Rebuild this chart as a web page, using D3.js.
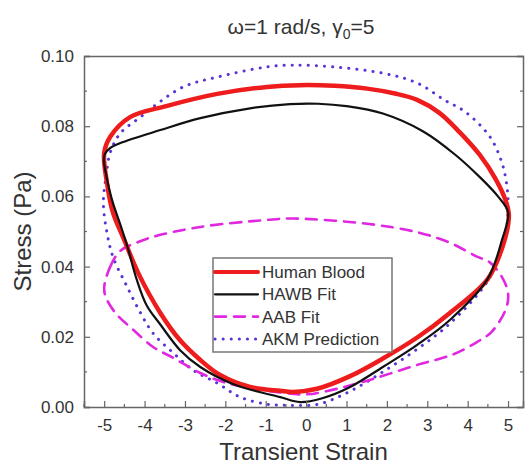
<!doctype html>
<html lang="en">
  <head>
    <meta charset="utf-8" />
    <title>Stress vs transient strain</title>
    <style>
      body { margin: 0; background: #fff; }
      text { font-family: "Liberation Sans", Arial, sans-serif; }
    </style>
  </head>
  <body>
    <div id="chart"></div>
    <script src="https://d3js.org/d3.v7.min.js"></script>
    <script>
// data, each loop listed clockwise from the left corner
var bloodStrain = [-5.0, -4.85, -4.36, -3.44, -2.2, -0.97, -0.15, 0.7, 1.51, 2.2, 2.75, 3.3, 3.8, 4.3, 4.7, 4.95, 5.02,
  4.9, 4.5, 3.56, 2.75, 1.9, 1.09, 0.27, -0.32, -0.64, -1.39, -2.13, -2.62, -3.12, -3.61, -4.15, -4.5, -4.78, -4.93];
var bloodStress = [0.0724, 0.077, 0.0826, 0.0858, 0.0892, 0.0912, 0.0917, 0.0915, 0.0907, 0.0893, 0.0875, 0.0838, 0.0783, 0.0718, 0.0648, 0.0585, 0.0545,
  0.047, 0.0365, 0.0268, 0.0198, 0.0138, 0.0088, 0.0052, 0.0043, 0.0046, 0.0057, 0.0091, 0.0134, 0.019, 0.0268, 0.038, 0.0475, 0.0553, 0.0638];

var hawbStrain = [-5.0, -4.85, -4.6, -3.61, -2.62, -1.39, -0.4, 0.3, 1.0, 1.9, 2.9, 3.7, 4.3, 4.75, 5.0,
  4.85, 4.48, 3.56, 2.75, 1.9, 1.09, 0.4, -0.15, -0.64, -1.8, -2.62, -3.12, -3.61, -3.95, -4.2, -4.42, -4.6, -4.78, -4.93];
var hawbStress = [0.0715, 0.0738, 0.0752, 0.0789, 0.0823, 0.0851, 0.0863, 0.0864, 0.0857, 0.0836, 0.0785, 0.0718, 0.0655, 0.06, 0.0555,
  0.0476, 0.0362, 0.0248, 0.0177, 0.0114, 0.0057, 0.0025, 0.0014, 0.0028, 0.0065, 0.0114, 0.0162, 0.0235, 0.029, 0.0365, 0.0455, 0.052, 0.058, 0.065];

var aabStrain = [-5.0, -4.85, -4.6, -4.2, -3.79, -2.62, -0.97, -0.32, 1.51, 2.75, 3.56, 4.2, 4.55, 4.85, 5.0,
  4.95, 4.6, 4.23, 3.64, 2.75, 1.51, 0.5, 0.0, -0.7, -1.96, -2.62, -3.29, -3.79, -4.28, -4.7, -4.95];
var aabStress = [0.034, 0.040, 0.0445, 0.0468, 0.0485, 0.0513, 0.0533, 0.0537, 0.0522, 0.0498, 0.0468, 0.043, 0.0412, 0.037, 0.0325,
  0.028, 0.0215, 0.0185, 0.015, 0.012, 0.0075, 0.0045, 0.0036, 0.0042, 0.0068, 0.0097, 0.014, 0.0171, 0.022, 0.0265, 0.031];

var akmStrain = [-5.02, -4.95, -4.85, -4.6, -4.1, -3.79, -3.04, -2.2, -0.97, -0.32, 0.67, 1.9, 2.75, 3.42, 3.95, 4.55, 4.85, 4.97, 5.0,
  4.9, 4.5, 3.56, 2.75, 1.9, 1.09, 0.3, -0.5, -0.97, -1.63, -2.2, -2.8, -3.29, -3.79, -4.1, -4.43, -4.78, -4.93];
var akmStress = [0.058, 0.066, 0.0725, 0.078, 0.0826, 0.0855, 0.0912, 0.094, 0.0969, 0.0974, 0.0969, 0.0951, 0.0923, 0.0875, 0.084, 0.077, 0.0695, 0.063, 0.057,
  0.047, 0.036, 0.0238, 0.0165, 0.01, 0.0045, 0.0008, 0.0005, 0.0008, 0.0028, 0.0068, 0.0105, 0.0154, 0.021, 0.0268, 0.0342, 0.0427, 0.0496];

var xTicks = [-5, -4, -3, -2, -1, 0, 1, 2, 3, 4, 5];
var yTicks = [0.00, 0.02, 0.04, 0.06, 0.08, 0.10];
var legendNames = ["Human Blood", "HAWB Fit", "AAB Fit", "AKM Prediction"];

var width = 528, height = 465;
var margin = {top: 56, right: 5, bottom: 58, left: 84};

var svg = d3.select("#chart").append("svg")
  .attr("width", width)
  .attr("height", height);

var x = d3.scaleLinear().domain([-5.5, 5.37]).range([margin.left, width - margin.right]);
var y = d3.scaleLinear().domain([0, 0.1]).range([height - margin.bottom, margin.top]);

var series = [
  {name: legendNames[0], xs: bloodStrain, ys: bloodStress, color: "#ee1c1c", w: 4.5, dash: null},
  {name: legendNames[1], xs: hawbStrain, ys: hawbStress, color: "#111", w: 2.2, dash: null},
  {name: legendNames[2], xs: aabStrain, ys: aabStress, color: "#e028e0", w: 2.6, dash: "11,8"},
  {name: legendNames[3], xs: akmStrain, ys: akmStress, color: "#5a32d8", w: 3, dash: "0.1,8"}
];

var line = d3.line()
  .x(function(d) { return x(d[0]); })
  .y(function(d) { return y(d[1]); })
  .curve(d3.curveCatmullRomClosed.alpha(0.5));

// draw the dotted/dashed ones first, measured curves on top
[3, 2, 0, 1].forEach(function(i) {
  var s = series[i];
  svg.append("path")
    .datum(d3.zip(s.xs, s.ys))
    .attr("d", line)
    .attr("fill", "none")
    .attr("stroke", s.color)
    .attr("stroke-width", s.w)
    .attr("stroke-linecap", "round")
    .attr("stroke-linejoin", "round")
    .attr("stroke-dasharray", s.dash);
});

// axes (ticks point inward)
var axisColor = "#666";
var xMinor = d3.range(-5.5, 5.4, 0.5).filter(function(v) { return v % 1 !== 0; });
var yMinor = [0.01, 0.03, 0.05, 0.07, 0.09];
var hyphen = function(d) { return String(d); };  // plain "-" like the original

var gx = svg.append("g").attr("transform", "translate(0," + y(0) + ")")
  .call(d3.axisBottom(x).tickValues(xTicks).tickSize(-6).tickPadding(12).tickFormat(hyphen));
gx.append("g").selectAll("line").data(xMinor).enter().append("line")
  .attr("x1", function(d) { return x(d); }).attr("x2", function(d) { return x(d); })
  .attr("y1", 0).attr("y2", -3);

var gy = svg.append("g").attr("transform", "translate(" + x.range()[0] + ",0)")
  .call(d3.axisLeft(y).tickValues(yTicks).tickSize(-6).tickPadding(10).tickFormat(d3.format(".2f")));
gy.append("g").selectAll("line").data(yMinor).enter().append("line")
  .attr("y1", function(d) { return y(d); }).attr("y2", function(d) { return y(d); })
  .attr("x1", 0).attr("x2", 3);

var gr = svg.append("g").attr("transform", "translate(" + x.range()[1] + ",0)")
  .call(d3.axisRight(y).tickValues(yTicks).tickSize(-6).tickFormat(""));
gr.append("g").selectAll("line").data(yMinor).enter().append("line")
  .attr("y1", function(d) { return y(d); }).attr("y2", function(d) { return y(d); })
  .attr("x1", 0).attr("x2", -3);

svg.append("g").attr("transform", "translate(0," + y(0.1) + ")")
  .call(d3.axisTop(x).tickValues([]).tickSizeOuter(0));

svg.selectAll(".domain").attr("stroke", axisColor).attr("stroke-width", 1.5);
svg.selectAll(".tick line").attr("stroke", axisColor).attr("stroke-width", 1.2);
gx.selectAll("g > line").attr("stroke", axisColor).attr("stroke-width", 1.2);
gy.selectAll("g > line").attr("stroke", axisColor).attr("stroke-width", 1.2);
gr.selectAll("g > line").attr("stroke", axisColor).attr("stroke-width", 1.2);
svg.selectAll(".tick text").attr("font-size", "17px").attr("fill", "#333")
  .attr("font-family", "'Liberation Sans', Arial, sans-serif");

// titles
svg.append("text")
  .attr("x", 301).attr("y", 34)
  .attr("text-anchor", "middle")
  .attr("font-size", "21px").attr("fill", "#333")
  .html("ω=1 rad/s, γ<tspan font-size='14px' dy='5'>0</tspan><tspan dy='-5'>=5</tspan>");

svg.append("text")
  .attr("x", (x.range()[0] + x.range()[1]) / 2).attr("y", 460)
  .attr("text-anchor", "middle")
  .attr("font-size", "24px").attr("fill", "#333")
  .text("Transient Strain");

svg.append("text")
  .attr("transform", "translate(31," + y(0.05) + ") rotate(-90)")
  .attr("text-anchor", "middle")
  .attr("font-size", "24px").attr("fill", "#333")
  .text("Stress (Pa)");

// legend
var lg = svg.append("g").attr("transform", "translate(213,258)");
lg.append("rect").attr("width", 179).attr("height", 94)
  .attr("fill", "#fff").attr("stroke", "#777").attr("stroke-width", 1.5);
series.forEach(function(s, i) {
  var ry = 14 + i * 22.3;
  lg.append("line")
    .attr("x1", 2).attr("x2", 45).attr("y1", ry).attr("y2", ry)
    .attr("stroke", s.color)
    .attr("stroke-width", i === 0 ? 4 : s.w)
    .attr("stroke-linecap", "round")
    .attr("stroke-dasharray", s.dash);
  lg.append("text")
    .attr("x", 49).attr("y", ry + 6)
    .attr("font-size", "17px").attr("fill", "#333")
    .text(s.name);
});
    </script>
  </body>
</html>
